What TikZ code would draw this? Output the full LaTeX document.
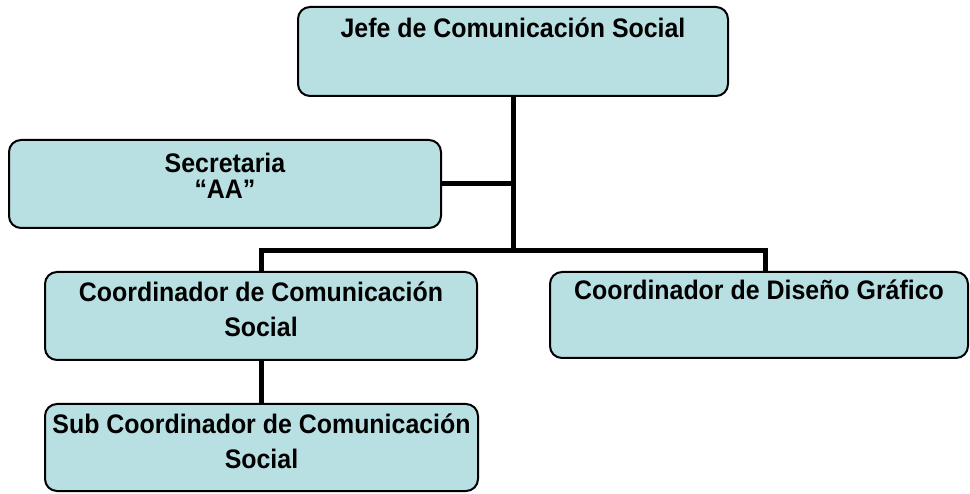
\documentclass[tikz,border=0pt]{standalone}
\usepackage{fontspec}
\setmainfont{Liberation Sans}[FakeStretch=0.93]
\definecolor{boxfill}{HTML}{B8E0E2}
\newcommand\orgtext[5]{\parbox[c][#1][t]{#2}{\centering\fontsize{26.8pt}{#3}\selectfont\bfseries\rule{0pt}{#4}#5\par}}
\tikzset{
  orgbox/.style={draw=black, line width=2pt, fill=boxfill, rounded corners=12pt, inner sep=0pt, outer sep=0pt},
  conn/.style={draw=black, line width=5pt, line join=miter}
}
\begin{document}
\begin{tikzpicture}[x=1pt,y=-1pt]
\useasboundingbox (0,0) rectangle (970,494);
\node[orgbox] (top) at (513,51.5) {\orgtext{89pt}{430pt}{35pt}{31pt}{Jefe de Comunicación Social}};
\node[orgbox] (sec) at (225,184) {\orgtext{88pt}{432pt}{26pt}{33pt}{Secretaria\\“AA”}};
\node[orgbox] (cs) at (261,316) {\orgtext{88pt}{432pt}{35pt}{30pt}{Coordinador de Comunicación\\Social}};
\node[orgbox] (dg) at (759,315) {\orgtext{86pt}{418pt}{35pt}{28pt}{Coordinador de Diseño Gráfico}};
\node[orgbox] (sub) at (261.5,447.5) {\orgtext{87pt}{433pt}{35pt}{29pt}{Sub Coordinador de Comunicación\\Social}};
\coordinate (bus) at (513,251);
\draw[conn] (top.south) -- (bus);
\draw[conn] (sec.east) -- (sec.east -| bus);
\draw[conn] (cs.north) |- (bus) -| ([xshift=6pt]dg.north);
\draw[conn] (cs.south) -- (cs.south |- sub.north);
\end{tikzpicture}
\end{document}
